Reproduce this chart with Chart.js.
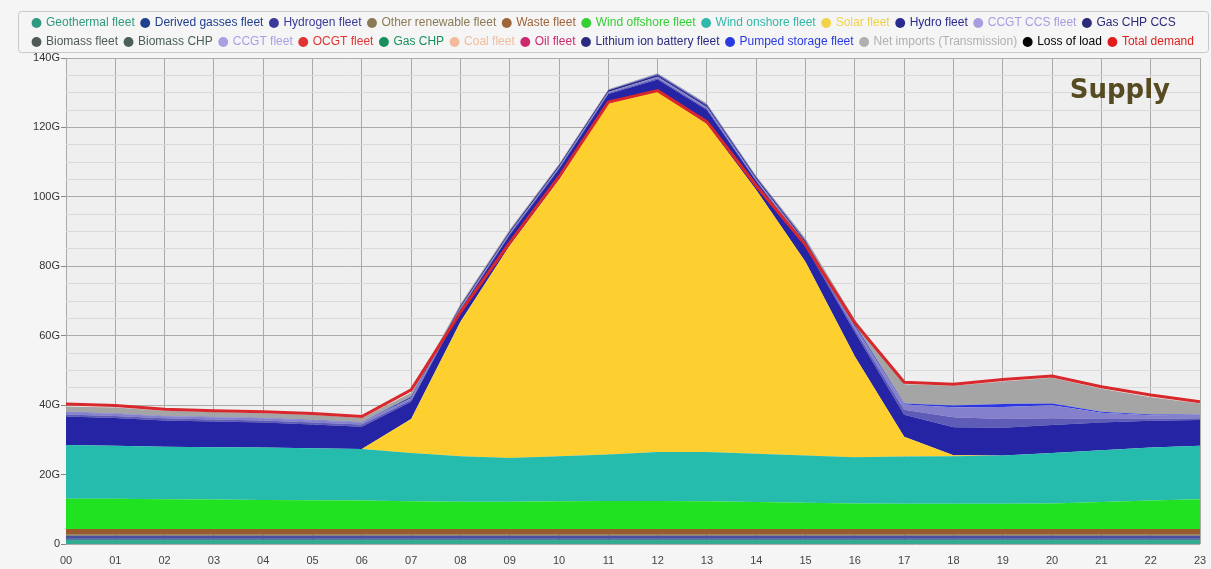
<!DOCTYPE html>
<html>
<head>
<meta charset="utf-8">
<title>Supply</title>
<script src="https://cdn.jsdelivr.net/npm/chart.js@4.4.1/dist/chart.umd.min.js"></script>
<style>
  html, body { margin: 0; padding: 0; background: #f5f5f5; }
  #supplyChart { display: block; }
</style>
</head>
<body>
<canvas id="supplyChart" width="1211" height="569"></canvas>
<script>
// --- Data (GW) ---
const hours = ['00', '01', '02', '03', '04', '05', '06', '07', '08', '09', '10', '11',
               '12', '13', '14', '15', '16', '17', '18', '19', '20', '21', '22', '23'];
const yTickValues = [0, 20, 40, 60, 80, 100, 120, 140];

const geothermal = [1.2, 1.2, 1.2, 1.2, 1.2, 1.2, 1.2, 1.2, 1.2, 1.2, 1.2, 1.2, 1.2, 1.2, 1.2, 1.2, 1.2, 1.2, 1.2, 1.2, 1.2, 1.2, 1.2, 1.2];
const derivedGasses = [0.3, 0.3, 0.3, 0.3, 0.3, 0.3, 0.3, 0.3, 0.3, 0.3, 0.3, 0.3, 0.3, 0.3, 0.3, 0.3, 0.3, 0.3, 0.3, 0.3, 0.3, 0.3, 0.3, 0.3];
const hydrogen = [0.9, 0.9, 0.9, 0.9, 0.9, 0.9, 0.9, 0.9, 0.9, 0.9, 0.9, 0.9, 0.9, 0.9, 0.9, 0.9, 0.9, 0.9, 0.9, 0.9, 0.9, 0.9, 0.9, 0.9];
const otherRenewable = [0.4, 0.4, 0.4, 0.4, 0.4, 0.4, 0.4, 0.4, 0.4, 0.4, 0.4, 0.4, 0.4, 0.4, 0.4, 0.4, 0.4, 0.4, 0.4, 0.4, 0.4, 0.4, 0.4, 0.4];
const waste = [1.5, 1.5, 1.5, 1.5, 1.5, 1.5, 1.5, 1.5, 1.5, 1.5, 1.5, 1.5, 1.5, 1.5, 1.5, 1.5, 1.5, 1.5, 1.5, 1.5, 1.5, 1.5, 1.5, 1.5];
const windOffshore = [8.7, 8.7, 8.6, 8.5, 8.4, 8.3, 8.2, 8.0, 7.9, 7.9, 8.0, 8.1, 8.1, 8.0, 7.8, 7.6, 7.4, 7.3, 7.3, 7.3, 7.4, 7.8, 8.2, 8.6];
const windOnshore = [15.5, 15.3, 15.1, 15.1, 15.1, 15.0, 14.9, 13.9, 13.1, 12.6, 13.0, 13.4, 14.1, 14.2, 13.9, 13.6, 13.3, 13.6, 13.7, 13.9, 14.5, 14.9, 15.3, 15.4];
const solar = [0, 0, 0, 0, 0, 0, 0, 9.8, 38.7, 61.2, 79.7, 101.2, 103.8, 94.5, 76.0, 55.7, 29.0, 5.7, 0.3, 0, 0, 0, 0, 0];
const hydro = [8.2, 8.0, 7.6, 7.4, 7.2, 6.8, 6.4, 5.0, 3.5, 3.0, 3.0, 2.6, 3.5, 4.0, 2.5, 4.5, 7.0, 6.3, 8.0, 8.0, 8.1, 8.0, 7.7, 7.4];
const ccgtCcs = [0.6, 0.6, 0.6, 0.6, 0.6, 0.6, 0.6, 0.5, 0.3, 0.3, 0.3, 0.3, 0.4, 0.4, 0.3, 0.5, 0.8, 1.5, 2.9, 2.5, 1.9, 1.0, 0.6, 0.5];
const ccgt = [0.6, 0.6, 0.6, 0.6, 0.6, 0.6, 0.6, 0.5, 0.3, 0.3, 0.3, 0.3, 0.4, 0.4, 0.3, 0.5, 0.8, 1.5, 2.9, 3.5, 3.8, 1.8, 1.0, 1.0];
const lithiumIon = [0, 0, 0, 0, 0, 0, 0, 0.3, 0.5, 0.5, 0.5, 0.5, 0.5, 0.5, 0.5, 0.5, 0.3, 0, 0, 0, 0, 0, 0, 0];
const pumpedStorage = [0.1, 0.1, 0.1, 0.1, 0.1, 0.1, 0.1, 0.2, 0.1, 0.1, 0.1, 0.1, 0.2, 0.2, 0.1, 0.2, 0.3, 0.3, 0.5, 0.8, 0.5, 0.3, 0.2, 0.1];
const netImports = [1.6, 1.7, 1.5, 1.4, 1.4, 1.5, 1.2, 1.1, 0.4, 0.4, 0.3, 0.2, 0.3, 0.4, 0.3, 0.6, 1.5, 5.5, 5.7, 6.5, 7.4, 6.6, 5.0, 3.2];
const noOutput = [0, 0, 0, 0, 0, 0, 0, 0, 0, 0, 0, 0, 0, 0, 0, 0, 0, 0, 0, 0, 0, 0, 0, 0];
const totalDemand = [40.3, 39.9, 38.8, 38.4, 38.1, 37.6, 36.7, 44.4, 66.8, 86.8, 105.8, 127.3, 130.6, 121.6, 103.2, 86.1, 63.7, 46.6, 46.0, 47.4, 48.4, 45.3, 42.9, 41.0];

// --- Series: label, values, area colour, legend colour ---
const series = [
    ['Geothermal fleet', geothermal, '#35aa92', '#2f9a80'],
    ['Derived gasses fleet', derivedGasses, '#243f8c', '#1f3f8f'],
    ['Hydrogen fleet', hydrogen, '#4a4f9e', '#3a3a9a'],
    ['Other renewable fleet', otherRenewable, '#8a7048', '#8a7a55'],
    ['Waste fleet', waste, '#9a5a30', '#a0643a'],
    ['Wind offshore fleet', windOffshore, '#21e221', '#35cf35'],
    ['Wind onshore fleet', windOnshore, '#25bcae', '#30b8a8'],
    ['Solar fleet', solar, '#fdd02f', '#f2d24a'],
    ['Hydro fleet', hydro, '#2424a4', '#2a2a90'],
    ['CCGT CCS fleet', ccgtCcs, '#5f5cb8', '#a79ee0'],
    ['Gas CHP CCS', noOutput, '#2b2b7a', '#2b2b7a'],
    ['Biomass fleet', noOutput, '#4e5a58', '#505a58'],
    ['Biomass CHP', noOutput, '#4e6660', '#4a605a'],
    ['CCGT fleet', ccgt, '#8480cc', '#a99fe3'],
    ['OCGT fleet', noOutput, '#e03030', '#e03333'],
    ['Gas CHP', noOutput, '#1a9060', '#18905e'],
    ['Coal fleet', noOutput, '#f5c0a0', '#f2bc9c'],
    ['Oil fleet', noOutput, '#d0206a', '#cc2a6e'],
    ['Lithium ion battery fleet', lithiumIon, '#2a2a80', '#2a2a80'],
    ['Pumped storage fleet', pumpedStorage, '#2a36e6', '#2a3ae0'],
    ['Net imports (Transmission)', netImports, '#a5a5a5', '#b0b0b0'],
    ['Loss of load', noOutput, '#000000', '#000000']
];

const datasets = series.map(([label, values, fillColor, legendColor], i) => ({
    label: label,
    data: values,
    stack: 'supply',
    fill: i === 0 ? 'origin' : '-1',
    backgroundColor: fillColor,
    borderColor: fillColor,
    borderWidth: 0,
    pointRadius: 0,
    tension: 0,
    legendColor: legendColor
}));

datasets.push({
    label: 'Total demand',
    data: totalDemand,
    stack: 'demand',
    fill: false,
    order: -1,
    borderColor: '#d8282c',
    backgroundColor: '#d8282c',
    borderWidth: 3,
    pointRadius: 0,
    tension: 0,
    legendColor: '#e01c1c'
});

// --- Plugins ---
const plotBackground = {
    id: 'plotBackground',
    beforeDraw(chart) {
        const { ctx, chartArea } = chart;
        ctx.save();
        ctx.fillStyle = '#efefef';
        ctx.fillRect(chartArea.left, chartArea.top, chartArea.right - chartArea.left, chartArea.bottom - chartArea.top);
        ctx.restore();
    }
};

const legendFrame = {
    id: 'legendFrame',
    afterDraw(chart) {
        const { ctx } = chart;
        const lg = chart.legend;
        ctx.save();
        ctx.strokeStyle = '#c9c9c9';
        ctx.lineWidth = 1;
        ctx.beginPath();
        ctx.roundRect(lg.left - 7.5, lg.top + 1.5, chart.width - lg.left + 5, lg.height - 7, 3);
        ctx.stroke();
        ctx.restore();
    }
};

const supplyLabel = {
    id: 'supplyLabel',
    afterDatasetsDraw(chart) {
        const { ctx, chartArea } = chart;
        ctx.save();
        ctx.font = 'bold 26px "DejaVu Sans", Verdana, sans-serif';
        ctx.fillStyle = '#574b22';
        ctx.textAlign = 'right';
        ctx.textBaseline = 'alphabetic';
        ctx.fillText('Supply', chartArea.right - 30, chartArea.top + 40);
        ctx.restore();
    }
};

// --- Chart ---
const ctx = document.getElementById('supplyChart').getContext('2d');
new Chart(ctx, {
    type: 'line',
    data: { labels: hours, datasets: datasets },
    plugins: [plotBackground, legendFrame, supplyLabel],
    options: {
        responsive: false,
        animation: false,
        devicePixelRatio: 1,
        layout: { padding: { left: 26, right: 0, top: 10, bottom: 0 } },
        plugins: {
            tooltip: { enabled: false },
            legend: {
                position: 'top',
                align: 'start',
                labels: {
                    usePointStyle: true,
                    boxWidth: 7,
                    boxHeight: 7,
                    padding: 7,
                    font: { family: '"Liberation Sans", Arial, sans-serif', size: 12, lineHeight: 0.84 },
                    generateLabels: chart => chart.data.datasets.map((ds, i) => ({
                        text: ds.label,
                        fillStyle: ds.legendColor,
                        strokeStyle: ds.legendColor,
                        lineWidth: 0,
                        fontColor: ds.legendColor,
                        pointStyle: 'circle',
                        hidden: false,
                        datasetIndex: i
                    }))
                }
            }
        },
        scales: {
            x: {
                afterFit(scale) {
                    scale.height = 25;
                    scale.paddingLeft = 0;
                    scale.paddingRight = 0;
                },
                grid: { color: '#a9a9a9', drawTicks: false },
                border: { display: false },
                ticks: {
                    padding: 10,
                    maxRotation: 0,
                    autoSkip: false,
                    color: '#444444',
                    font: { family: '"Liberation Sans", Arial, sans-serif', size: 11 }
                }
            },
            y: {
                stacked: true,
                min: 0,
                max: 140,
                afterFit(scale) { scale.width = 40; },
                border: { display: false },
                grid: {
                    tickLength: 5,
                    color: c => yTickValues.includes(c.tick.value) ? '#ababab' : '#d9d9d9',
                    tickColor: c => yTickValues.includes(c.tick.value) ? '#888888' : 'rgba(0,0,0,0)'
                },
                ticks: {
                    stepSize: 5,
                    autoSkip: false,
                    padding: 1,
                    color: '#333333',
                    font: { family: '"Liberation Sans", Arial, sans-serif', size: 11 },
                    callback: v => yTickValues.includes(v) ? (v === 0 ? '0' : v + 'G') : ''
                }
            },
            yRight: {
                position: 'right',
                min: 0,
                max: 140,
                afterFit(scale) { scale.width = 11; },
                border: { display: false },
                grid: { display: false },
                ticks: { display: false }
            }
        }
    }
});
</script>
</body>
</html>
